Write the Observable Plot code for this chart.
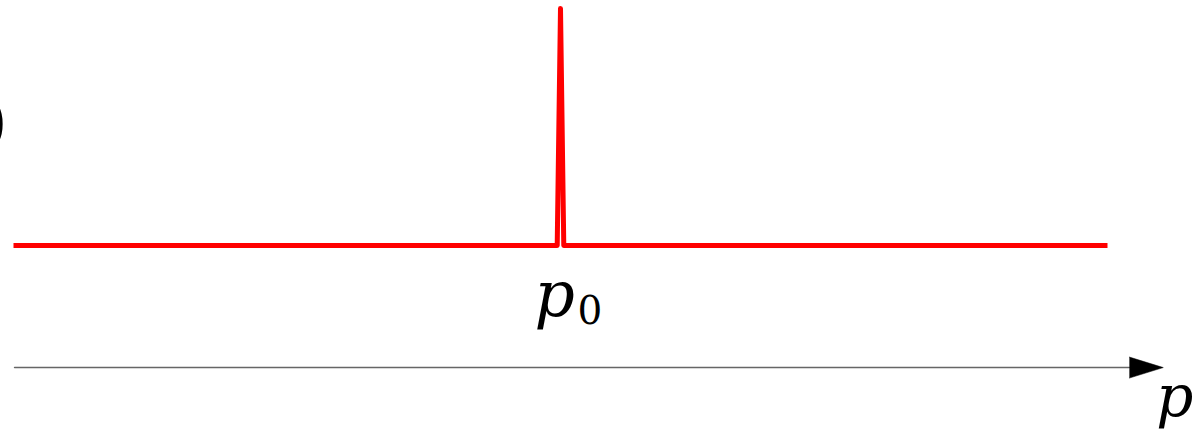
<!DOCTYPE html>
<html>
<head>
<meta charset="utf-8">
<script src="https://cdn.jsdelivr.net/npm/d3@7"></script>
<script src="https://cdn.jsdelivr.net/npm/@observablehq/plot@0.6"></script>
<style>
  html, body { margin: 0; padding: 0; background: #fff; overflow: hidden; }
  #chart svg { display: block; }
</style>
</head>
<body>
<div id="chart"></div>
<script>
// ---- data ----
const momentum = [-5, -0.03, 0, 0.03, 5];     // p values
const density = [0, 0, 1, 0, 0];              // δ(p − p0), drawn as a narrow spike
const peakPosition = 0;                        // p0
const peakLabel = "p";
const peakSubscript = "0";
const axisLabel = "p";
const yLabel = "δ(p − p₀)";
const axisExtent = [-4.99, 5.51];              // p range spanned by the horizontal axis arrow
const axisLevel = -0.515;                      // where the axis sits below the zero line

// ---- layout ----
const W = 1204, H = 431;
const xDomain = [-5.1188, 5.8867];
const yDomain = [-0.7848, 1.0338];
const headLen = 0.31, headHalf = 0.0443;

const curve = momentum.map((p, i) => ({p, f: density[i]}));
const shaft = [{p: axisExtent[0], f: axisLevel}, {p: axisExtent[1] - headLen, f: axisLevel}];
const head = [
  {p: axisExtent[1] - headLen, f: axisLevel + headHalf},
  {p: axisExtent[1], f: axisLevel},
  {p: axisExtent[1] - headLen, f: axisLevel - headHalf}
];

const serif = "DejaVu Serif";

const chart = Plot.plot({
  width: W,
  height: H,
  margin: 0,
  style: {background: "white", overflow: "hidden"},
  x: {domain: xDomain, axis: null},
  y: {domain: yDomain, axis: null},
  marks: [
    Plot.line(shaft, {x: "p", y: "f", stroke: "#666", strokeWidth: 1.5}),
    Plot.line(head, {x: "p", y: "f", fill: "black", stroke: "black", strokeWidth: 0.5}),
    Plot.line(curve, {x: "p", y: "f", stroke: "#ff0000", strokeWidth: 5, strokeLinejoin: "round", strokeLinecap: "butt"}),
    Plot.text([peakLabel], {x: peakPosition, y: -0.2616, text: d => d, dx: -26, dy: 8, textAnchor: "start", lineAnchor: "bottom",
      fontFamily: serif, fontStyle: "italic", fontSize: 63, fill: "black"}),
    Plot.text([peakSubscript], {x: peakPosition, y: -0.2616, text: d => d, dx: 17, dy: 16, textAnchor: "start", lineAnchor: "bottom",
      fontFamily: serif, fontSize: 39, fill: "black"}),
    Plot.text([axisLabel], {x: axisExtent[1], y: axisLevel, text: d => d, dx: -7, dy: 48, textAnchor: "start", lineAnchor: "bottom",
      fontFamily: serif, fontStyle: "italic", fontSize: 58, fill: "black"}),
    Plot.text([yLabel], {x: xDomain[0], y: 0.5, text: d => d, dx: 7, dy: 15, textAnchor: "end", lineAnchor: "bottom",
      fontFamily: serif, fontSize: 60, fill: "black"})
  ]
});
document.getElementById("chart").appendChild(chart);
</script>
</body>
</html>
